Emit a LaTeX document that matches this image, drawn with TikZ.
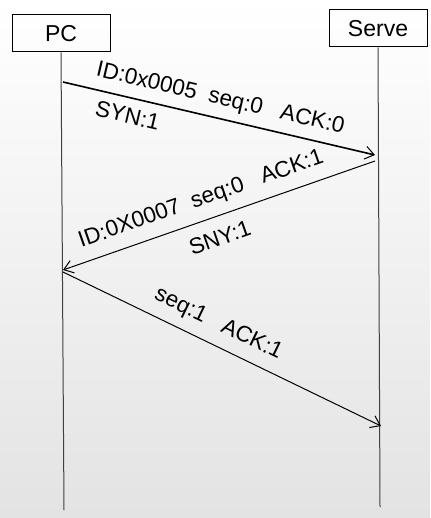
\documentclass[tikz,border=0pt]{standalone}
\usepackage{fontspec}
\setmainfont{Liberation Sans}
\usetikzlibrary{arrows.meta}
\begin{document}
\begin{tikzpicture}[x=1pt,y=-1pt,
   every node/.style={font=\fontsize{22.5}{26}\selectfont},
   actor/.style={draw,line width=1pt,minimum width=98pt,minimum height=37pt,inner sep=0pt,
      font=\fontsize{23}{26}\selectfont},
   lifeline/.style={line width=1pt,draw=black!75},
   msg/.style={line width=1pt,-{Straight Barb[length=9pt,width=13pt,line width=1pt]}},
   lbl/.style={sloped,inner sep=0pt}]
\fill[top color=white,bottom color=black!11] (0,0) rectangle (430,518);
\useasboundingbox (0,0) rectangle (430,518);
\node[actor] (pc) at (61,33.5) {PC};
\node[actor] (serve) at (378,28.5) {Serve};
\coordinate (pcend) at (64,510);
\coordinate (serveend) at (380,507);
\draw[lifeline] (pc.south) -- (pcend);
\draw[lifeline] (serve.south) -- (serveend);
\coordinate (syn) at (63,82);
\coordinate (synin) at (375,155);
\coordinate (ack) at (375,161);
\coordinate (ackin) at (63,270);
\coordinate (fin) at (63,272);
\coordinate (finin) at (381,426);
\draw[msg,line width=1.6pt] (syn) -- (synin)
   node[lbl,pos=0.49,above=8pt] {ID:0x0005\ \ seq:0\ \ \ ACK:0}
   node[lbl,pos=0.22,below=9pt] {SYN:1};
\draw[msg] (ack) -- (ackin)
   node[lbl,pos=0.535,above=10pt] {ID:0X0007\ \ seq:0\ \ \ ACK:1}
   node[lbl,pos=0.52,below=13pt] {SNY:1};
\draw[msg] (fin) -- (finin)
   node[lbl,pos=0.46,above=10pt] {seq:1\ \ \ ACK:1};
\end{tikzpicture}
\end{document}
